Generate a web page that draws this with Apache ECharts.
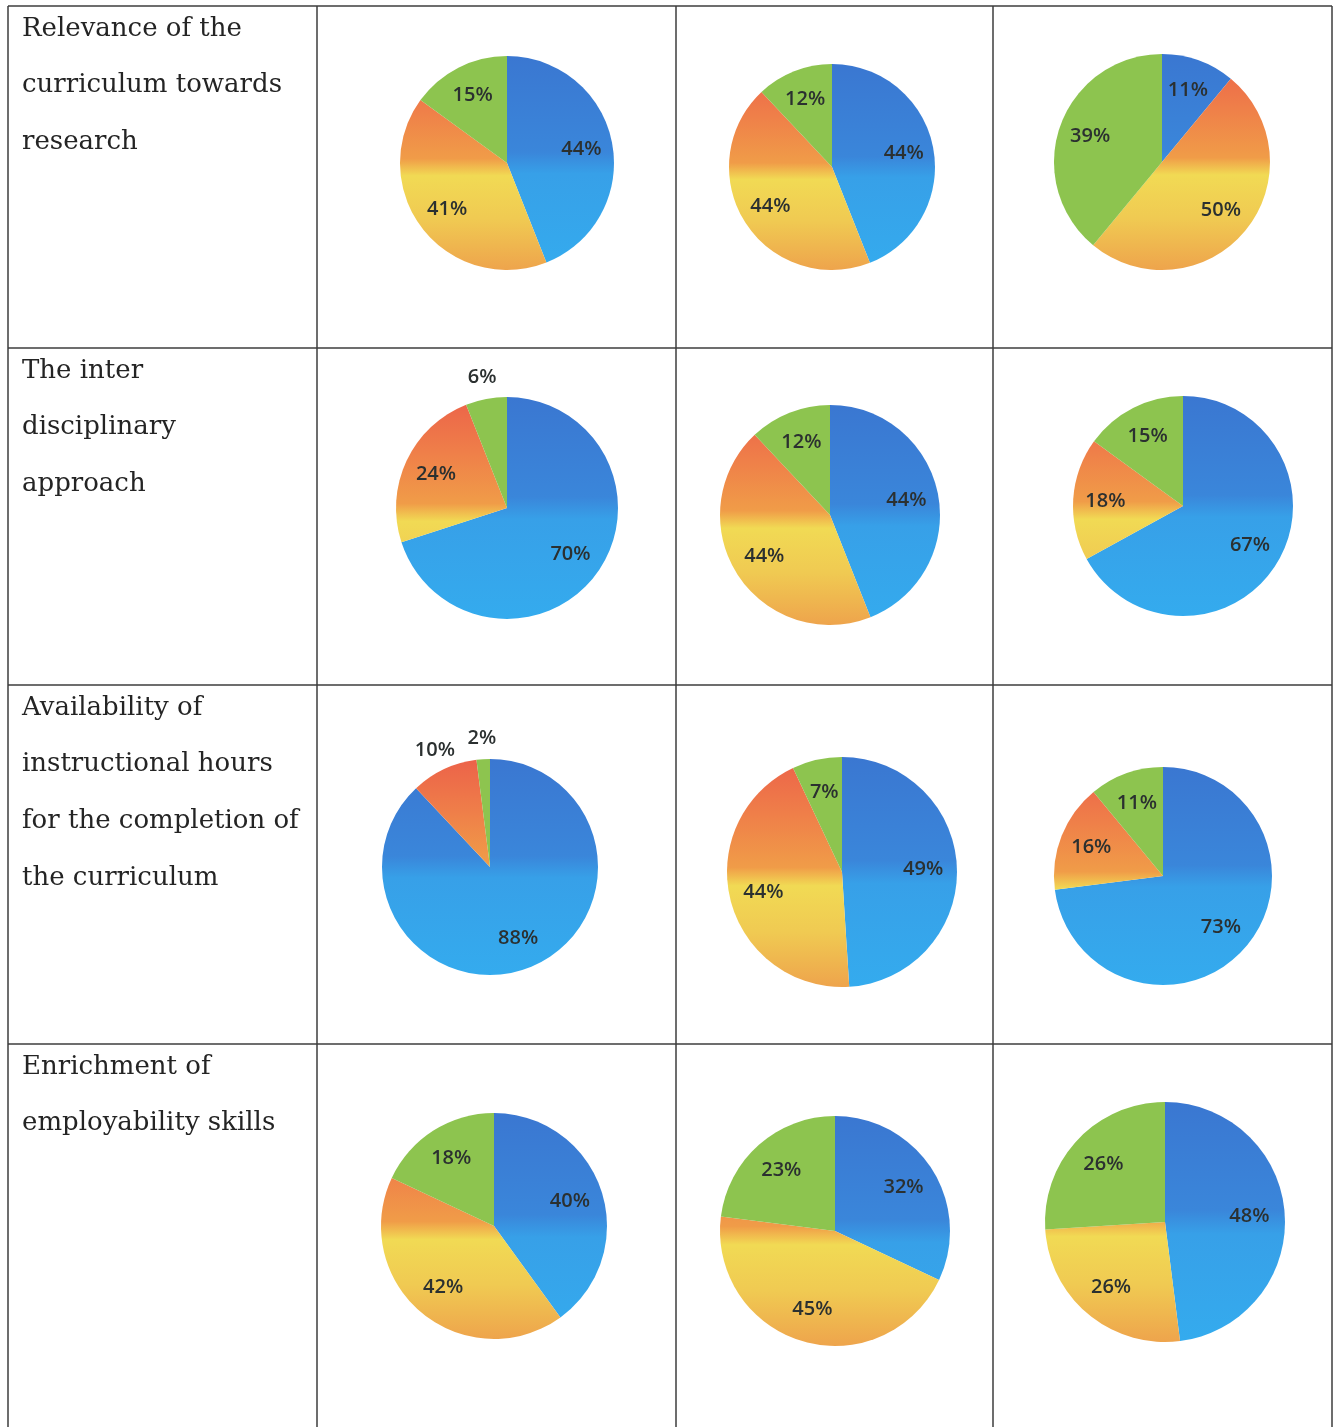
<!DOCTYPE html>
<html>
<head>
<meta charset="utf-8">
<script src="https://cdn.jsdelivr.net/npm/echarts@6/dist/echarts.min.js"></script>
<style>
html,body{margin:0;padding:0;background:#fff;}
#chart{width:1335px;height:1427px;}
</style>
</head>
<body>
<div id="chart"></div>
<script>
// ---- data ----
const rowLabels = [
  ["Relevance of the", "curriculum towards", "research"],
  ["The inter", "disciplinary", "approach"],
  ["Availability of", "instructional hours", "for the completion of", "the curriculum"],
  ["Enrichment of", "employability skills"]
];
const sliceNames = ["Category 1", "Category 2", "Category 3"];
// one value per pie, pies listed row by row (left to right)
const blueValues  = [44, 44, 11, 70, 44, 67, 88, 49, 73, 40, 32, 48];
const warmValues  = [41, 44, 50, 24, 44, 18, 10, 44, 16, 42, 45, 26];
const greenValues = [15, 12, 39,  6, 12, 15,  2,  7, 11, 18, 23, 26];

// ---- layout (not data) ----
const pieLayout = [
  [507, 163, 107], [832, 167, 103], [1162, 162, 108],
  [507, 508, 111], [830, 515, 110], [1183, 506, 110],
  [490, 867, 108], [842, 872, 115], [1163, 876, 109],
  [494, 1226, 113], [835, 1231, 115], [1165, 1222, 120]
];
const outsideLabels = {3: [2], 6: [1, 2]};
const colX = [8, 317, 676, 993, 1332];
const rowY = [6, 348, 685, 1044];
const pageBottom = 1427;

function blueGrad(cy, r) {
  return {type: 'linear', x: 0, y: cy - r, x2: 0, y2: cy + r, global: true,
    colorStops: [
      {offset: 0, color: '#3a77d1'}, {offset: 0.45, color: '#3a86da'},
      {offset: 0.55, color: '#37a0e8'}, {offset: 1, color: '#34abee'}]};
}
function warmGrad(cy, r) {
  return {type: 'linear', x: 0, y: cy - r, x2: 0, y2: cy + r, global: true,
    colorStops: [
      {offset: 0, color: '#ec6249'}, {offset: 0.25, color: '#ef7f49'},
      {offset: 0.48, color: '#f09c48'}, {offset: 0.56, color: '#f1da54'},
      {offset: 0.76, color: '#f0ca52'}, {offset: 1, color: '#eea44c'}]};
}
const greenColor = '#8dc44f';

const labelFont = {fontFamily: 'Open Sans', fontSize: 20, fontWeight: 600, color: '#2b3030'};

const series = [];
pieLayout.forEach(function (p, i) {
  const cx = p[0], cy = p[1], r = p[2];
  const vals = [blueValues[i], warmValues[i], greenValues[i]];
  const colors = [blueGrad(cy, r), warmGrad(cy, r), greenColor];
  const outs = outsideLabels[i] || [];
  // visible pie
  series.push({
    type: 'pie', center: [cx, cy], radius: [0, r], startAngle: 90, clockwise: true,
    avoidLabelOverlap: false, silent: true,
    label: {show: false}, labelLine: {show: false},
    data: vals.map(function (v, k) {
      return {value: v, name: sliceNames[k], itemStyle: {color: colors[k]}};
    })
  });
  // transparent helper rings that only carry the labels (inner and outer placement)
  [[1.36, false], [2.34, true]].forEach(function (cfg) {
    series.push({
      type: 'pie', center: [cx, cy], radius: [0, r * cfg[0]], startAngle: 90, clockwise: true,
      avoidLabelOverlap: false, silent: true, z: 3,
      labelLine: {show: false},
      data: vals.map(function (v, k) {
        const isOut = outs.indexOf(k) >= 0;
        return {value: v, name: sliceNames[k], itemStyle: {color: 'rgba(0,0,0,0)'},
          label: Object.assign({show: isOut === cfg[1], position: 'inside', formatter: '{c}%'}, labelFont)};
      })
    });
  });
});

const graphics = [];
colX.forEach(function (x) {
  graphics.push({type: 'line', shape: {x1: x, y1: rowY[0], x2: x, y2: pageBottom},
    style: {stroke: '#3c3c3c', lineWidth: 1.5}, z: 10});
});
rowY.forEach(function (y) {
  graphics.push({type: 'line', shape: {x1: colX[0], y1: y, x2: colX[colX.length - 1], y2: y},
    style: {stroke: '#3c3c3c', lineWidth: 1.5}, z: 10});
});
rowLabels.forEach(function (lines, ri) {
  lines.forEach(function (t, li) {
    graphics.push({type: 'text', x: 22, y: rowY[ri] + 23 + li * 56.7,
      style: {text: t, fontFamily: 'DejaVu Serif', fontSize: 26, fill: '#242424',
        textVerticalAlign: 'middle', textAlign: 'left'}, z: 10});
  });
});

const chart = echarts.init(document.getElementById('chart'));
chart.setOption({
  backgroundColor: '#ffffff',
  animation: false,
  graphic: graphics,
  series: series
});
</script>
</body>
</html>
